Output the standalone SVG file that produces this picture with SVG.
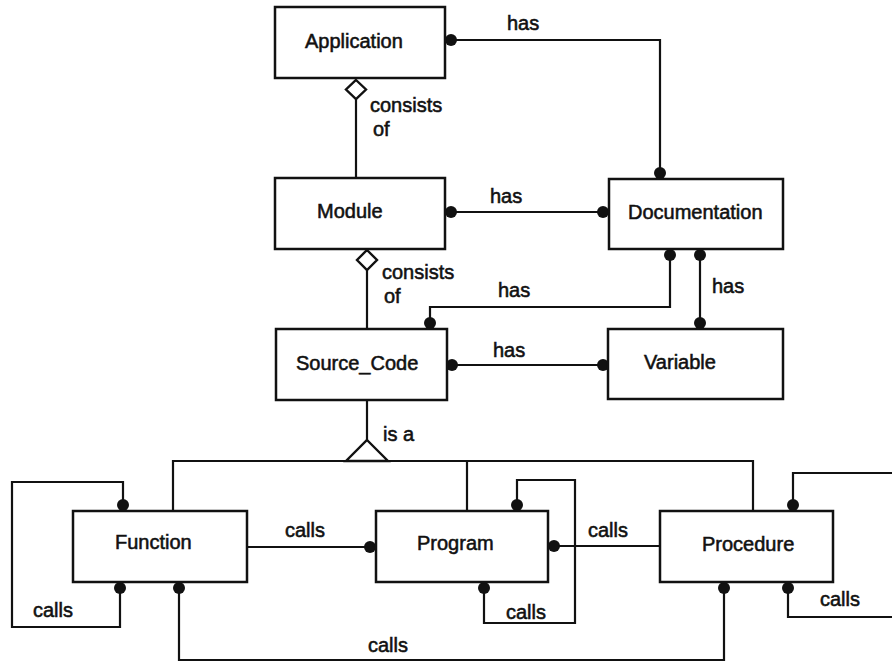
<svg xmlns="http://www.w3.org/2000/svg" width="892" height="662" viewBox="0 0 892 662">
  <style>
    .box { fill: #ffffff; stroke: #111111; stroke-width: 2.5; }
    .lbl { font-family: "Liberation Sans", Arial, sans-serif; font-size: 20px; fill: #111111; stroke: #111111; stroke-width: 0.55; }
    .edge { fill: none; stroke: #111111; stroke-width: 2.2; }
    .dot { fill: #111111; }
    .agg { fill: #ffffff; stroke: #111111; stroke-width: 2.4; }
  </style>

  <!-- connectors -->
  <g id="connectors">
    <!-- Application has Documentation -->
    <polyline class="edge" points="445,40 660,40 660,179"/>
    <circle class="dot" cx="451" cy="40" r="6"/>
    <circle class="dot" cx="660" cy="173" r="6"/>
    <text class="lbl" x="507" y="30">has</text>

    <!-- Application consists of Module -->
    <line class="edge" x1="356" y1="99" x2="356" y2="178"/>
    <polygon class="agg" points="356,80 366,89.5 356,99 346,89.5"/>
    <text class="lbl" x="370" y="112">consists</text>
    <text class="lbl" x="373" y="136">of</text>

    <!-- Module has Documentation -->
    <line class="edge" x1="445" y1="212" x2="609" y2="212"/>
    <circle class="dot" cx="451" cy="212" r="6"/>
    <circle class="dot" cx="603" cy="212" r="6"/>
    <text class="lbl" x="490" y="203">has</text>

    <!-- Module consists of Source_Code -->
    <line class="edge" x1="367" y1="270" x2="367" y2="329"/>
    <polygon class="agg" points="367,250 377,260 367,270 357,260"/>
    <text class="lbl" x="382" y="279">consists</text>
    <text class="lbl" x="384" y="303">of</text>

    <!-- Documentation has Source_Code -->
    <polyline class="edge" points="670,249 670,307 430,307 430,329"/>
    <circle class="dot" cx="670" cy="255" r="6"/>
    <circle class="dot" cx="430" cy="323" r="6"/>
    <text class="lbl" x="498" y="297">has</text>

    <!-- Documentation has Variable -->
    <line class="edge" x1="700" y1="249" x2="700" y2="329"/>
    <circle class="dot" cx="700" cy="255" r="6"/>
    <circle class="dot" cx="700" cy="323" r="6"/>
    <text class="lbl" x="712" y="293">has</text>

    <!-- Source_Code has Variable -->
    <line class="edge" x1="447" y1="365" x2="608" y2="365"/>
    <circle class="dot" cx="452" cy="365" r="6"/>
    <circle class="dot" cx="603" cy="365" r="6"/>
    <text class="lbl" x="493" y="357">has</text>

    <!-- is a (generalization) -->
    <line class="edge" x1="367" y1="400" x2="367" y2="440"/>
    <polyline class="edge" points="173,511 173,461 753,461 753,511"/>
    <line class="edge" x1="467" y1="461" x2="467" y2="511"/>
    <polygon class="agg" points="367,440 388,461 346,461"/>
    <text class="lbl" x="383" y="441">is a</text>

    <!-- Function calls Function -->
    <polyline class="edge" points="123,511 123,482 12,482 12,627 120,627 120,582"/>
    <circle class="dot" cx="123" cy="505" r="6"/>
    <circle class="dot" cx="120" cy="588" r="6"/>
    <text class="lbl" x="33" y="617">calls</text>

    <!-- Function calls Program -->
    <line class="edge" x1="247" y1="547" x2="376" y2="547"/>
    <circle class="dot" cx="370" cy="547" r="6"/>
    <text class="lbl" x="285" y="537">calls</text>

    <!-- Function calls Procedure -->
    <polyline class="edge" points="179,582 179,660 724,660 724,582"/>
    <circle class="dot" cx="179" cy="588" r="6"/>
    <circle class="dot" cx="724" cy="588" r="6"/>
    <text class="lbl" x="368" y="652">calls</text>

    <!-- Program calls Program -->
    <polyline class="edge" points="517,511 517,480 575,480 575,623 484,623 484,582"/>
    <circle class="dot" cx="517" cy="505" r="6"/>
    <circle class="dot" cx="484" cy="588" r="6"/>
    <text class="lbl" x="506" y="619">calls</text>

    <!-- Program calls Procedure -->
    <line class="edge" x1="548" y1="546" x2="660" y2="546"/>
    <circle class="dot" cx="554" cy="546" r="6"/>
    <text class="lbl" x="588" y="537">calls</text>

    <!-- Procedure calls Procedure -->
    <polyline class="edge" points="793,511 793,473 892,473"/>
    <polyline class="edge" points="788,582 788,617 892,617"/>
    <circle class="dot" cx="793" cy="505" r="6"/>
    <circle class="dot" cx="788" cy="588" r="6"/>
    <text class="lbl" x="820" y="606">calls</text>
  </g>

  <!-- entities -->
  <g id="application">
    <rect class="box" x="275" y="7" width="170" height="71"/>
    <text class="lbl" x="305" y="48">Application</text>
  </g>
  <g id="module">
    <rect class="box" x="275" y="178" width="170" height="71"/>
    <text class="lbl" x="317" y="218">Module</text>
  </g>
  <g id="documentation">
    <rect class="box" x="609" y="179" width="174" height="70"/>
    <text class="lbl" x="628" y="219">Documentation</text>
  </g>
  <g id="source_code">
    <rect class="box" x="276" y="329" width="171" height="71"/>
    <text class="lbl" x="296" y="370">Source_Code</text>
  </g>
  <g id="variable">
    <rect class="box" x="608" y="329" width="175" height="70"/>
    <text class="lbl" x="644" y="369">Variable</text>
  </g>
  <g id="function">
    <rect class="box" x="73" y="511" width="174" height="71"/>
    <text class="lbl" x="115" y="549">Function</text>
  </g>
  <g id="program">
    <rect class="box" x="376" y="511" width="172" height="71"/>
    <text class="lbl" x="417" y="550">Program</text>
  </g>
  <g id="procedure">
    <rect class="box" x="660" y="511" width="173" height="71"/>
    <text class="lbl" x="702" y="551">Procedure</text>
  </g>
</svg>
